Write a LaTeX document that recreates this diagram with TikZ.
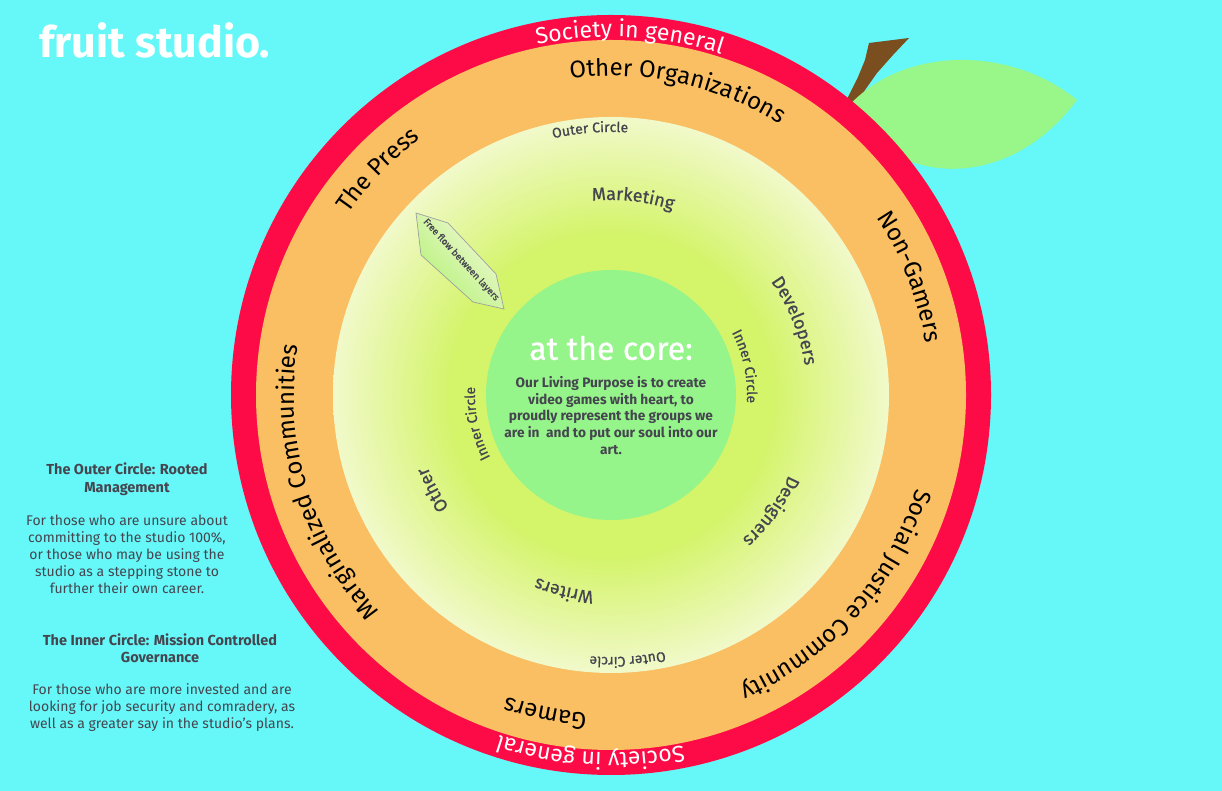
\documentclass[tikz,border=0pt]{standalone}
\usepackage{fontspec}
\setmainfont{Fira Sans}
\newfontfamily\semib[FakeBold=0.8]{Fira Sans}
\usetikzlibrary{decorations.text}
\definecolor{bgcyan}{HTML}{66F8F8}
\definecolor{applered}{HTML}{FC0B46}
\definecolor{ringorange}{HTML}{FABE63}
\definecolor{coregreen}{HTML}{96F58A}
\definecolor{pale}{HTML}{F1F9CA}
\definecolor{yg}{HTML}{D4F46A}
\definecolor{leafgreen}{HTML}{98F788}
\definecolor{stembrown}{HTML}{7A4E1E}
\definecolor{textgrey}{HTML}{45454F}
\definecolor{arrowgreen}{HTML}{B3F274}
\definecolor{arrowpale}{HTML}{F3F8DA}
\pgfdeclareradialshading{ringshade}{\pgfpoint{0bp}{0bp}}{color(0bp)=(yg); color(14.5bp)=(yg); color(25bp)=(pale); color(50bp)=(pale)}
\newcommand\fsz[1]{\fontsize{#1}{#1}\selectfont}
\begin{document}
\begin{tikzpicture}[x=1pt,y=1pt,
  ringtxt/.style={decorate,decoration={text along path,text align=center,text color=#1}},
  sidetxt/.style={text=textgrey,align=center,inner sep=0pt}]
\useasboundingbox (0,0) rectangle (1222,791);
\fill[bgcyan] (0,0) rectangle (1222,791);
% stem and leaf
\fill[stembrown] (846,690) -- (858,714) -- (865,731) -- (869,748) -- (909,753) -- (893,736) -- (877,718) -- (865,701) -- (858,688) -- cycle;
\fill[leafgreen] (845,681) .. controls (900,746) and (1010,746) .. (1077,691) .. controls (1010,601) and (900,601) .. cycle;
% apple
\begin{scope}[shift={(611,396)}]
\fill[applered] (0,0) circle[radius=380];
\fill[ringorange] (0,0) circle[radius=355];
\shade[shading=ringshade] (0,0) circle[radius=278];
\fill[coregreen] (0,0) circle[radius=125];
% red band
\path[ringtxt=white,decoration={text={|\fsz{23}|Society in general}}] (157:358) arc[start angle=157,end angle=17,radius=358];
\path[ringtxt=white,decoration={text={|\fsz{23}|Society in general}}] (336.7:358) arc[start angle=336.7,end angle=196.7,radius=358];
% orange band
\path[ringtxt=black,decoration={text={|\fsz{24}|Other Organizations}}] (147.7:319) arc[start angle=147.7,end angle=7.7,radius=319];
\path[ringtxt=black,decoration={text={|\fsz{24}|The Press}}] (206:319) arc[start angle=206,end angle=66,radius=319];
\path[ringtxt=black,decoration={text={|\fsz{24}|Non-Gamers}}] (91.5:319) arc[start angle=91.5,end angle=-48.5,radius=319];
\path[ringtxt=black,decoration={text={|\fsz{24}|Social Justice Community}}] (28.4:319) arc[start angle=28.4,end angle=-111.6,radius=319];
\path[ringtxt=black,decoration={text={|\fsz{24}|Gamers}}] (328.3:319) arc[start angle=328.3,end angle=188.3,radius=319];
\path[ringtxt=black,decoration={text={|\fsz{24}|Marginalized Communities}}] (267:317) arc[start angle=267,end angle=127,radius=317];
% light ring
\path[ringtxt=textgrey,decoration={text={|\semib\fsz{14}|Outer Circle}}] (164.5:263) arc[start angle=164.5,end angle=24.5,radius=263];
\path[ringtxt=textgrey,decoration={text={|\semib\fsz{14}|Outer Circle}}] (343.6:262) arc[start angle=343.6,end angle=203.6,radius=262];
\path[ringtxt=textgrey,decoration={text={|\semib\fsz{18}|Marketing}}] (153.6:195) arc[start angle=153.6,end angle=13.6,radius=195];
\path[ringtxt=textgrey,decoration={text={|\semib\fsz{18}|Developers}}] (92:196) arc[start angle=92,end angle=-48,radius=196];
\path[ringtxt=textgrey,decoration={text={|\semib\fsz{18}|Designers}}] (34:195) arc[start angle=34,end angle=-106,radius=195];
\path[ringtxt=textgrey,decoration={text={|\semib\fsz{18}|Writers}}] (326.5:197) arc[start angle=326.5,end angle=186.5,radius=197];
\path[ringtxt=textgrey,decoration={text={|\semib\fsz{18}|Other}}] (278:197) arc[start angle=278,end angle=138,radius=197];
\path[ringtxt=textgrey,decoration={text={|\semib\fsz{14}|Inner Circle}}] (82:136) arc[start angle=82,end angle=-58,radius=136];
\path[ringtxt=textgrey,decoration={text={|\semib\fsz{14}|Inner Circle}}] (262:136) arc[start angle=262,end angle=122,radius=136];
\end{scope}
% free flow arrow
\shade[draw=gray!75,line width=0.7pt,top color=arrowgreen,bottom color=arrowpale,shading angle=133]
  (416,578) -- (448,568) -- (496,517) -- (504,482) -- (473,489) -- (421,536) -- cycle;
\node[text=textgrey,font=\semib\fsz{9.6},rotate=-47.5,inner sep=0pt] (flow) at (461,531) {Free flow between layers};
% core text
\node[text=white,font=\semib\fsz{32},inner sep=0pt] (core) at (611,443) {at the core:};
\node[text=textgrey,font=\bfseries\fontsize{13.7}{16.7}\selectfont,align=center,inner sep=0pt] (purpose) at (611,375.5)
  {Our Living Purpose is to create\\video games with heart, to\\proudly represent the groups we\\are in \ and to put our soul into our\\art.};
% title
\node[anchor=base west,text=white,font=\bfseries\fsz{43},inner sep=0pt] (title) at (39,733) {fruit studio.};
% side notes
\node[sidetxt,font=\bfseries\fontsize{14.5}{18}\selectfont] (outerT) at (127,312) {The Outer Circle: Rooted\\Management};
\node[sidetxt,font=\fontsize{14}{17}\selectfont] (outerB) at (127,237) {For those who are unsure about\\committing to the studio 100\%,\\or those who may be using the\\studio as a stepping stone to\\further their own career.};
\node[sidetxt,font=\bfseries\fontsize{14.5}{17}\selectfont] (innerT) at (160,143) {The Inner Circle: Mission Controlled\\Governance};
\node[sidetxt,font=\fontsize{14}{17}\selectfont] (innerB) at (162,83) {For those who are more invested and are\\looking for job security and comradery, as\\well as a greater say in the studio's plans.};
\end{tikzpicture}
\end{document}
